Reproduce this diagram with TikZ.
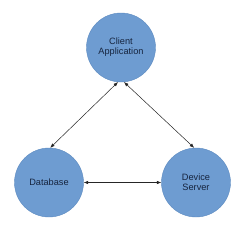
\documentclass[tikz,border=0pt]{standalone}
\usepackage{fontspec}
\setmainfont{Liberation Sans}
\usetikzlibrary{arrows.meta}
\definecolor{circfill}{RGB}{110,156,209}
\definecolor{circdraw}{RGB}{92,138,192}
\definecolor{txt}{RGB}{22,36,62}
\begin{document}
\begin{tikzpicture}[x=1bp,y=-1bp,
  entity/.style={circle,fill=circfill,draw=circdraw,line width=0.4bp,minimum size=69bp,inner sep=0pt,
    align=center,text=txt,font=\fontsize{9.2bp}{10bp}\selectfont},
  link/.style={{Latex[length=4.5bp,width=3.5bp]}-{Latex[length=4.5bp,width=3.5bp]},line width=0.5bp,draw=black!85}]
\useasboundingbox (0,0) rectangle (250,235);
\fill[white] (0,0) rectangle (250,235);
\node[entity] (client) at (121,47.5) {Client\\Application};
\node[entity] (db) at (49,182.5) {Database};
\node[entity] (dev) at (196,182.5) {Device\\Server};
\draw[link] (client.-95) -- (db.88);
\draw[link] (client.-85) -- (dev.93);
\draw[link] (db.east) -- (dev.west);
\end{tikzpicture}
\end{document}
